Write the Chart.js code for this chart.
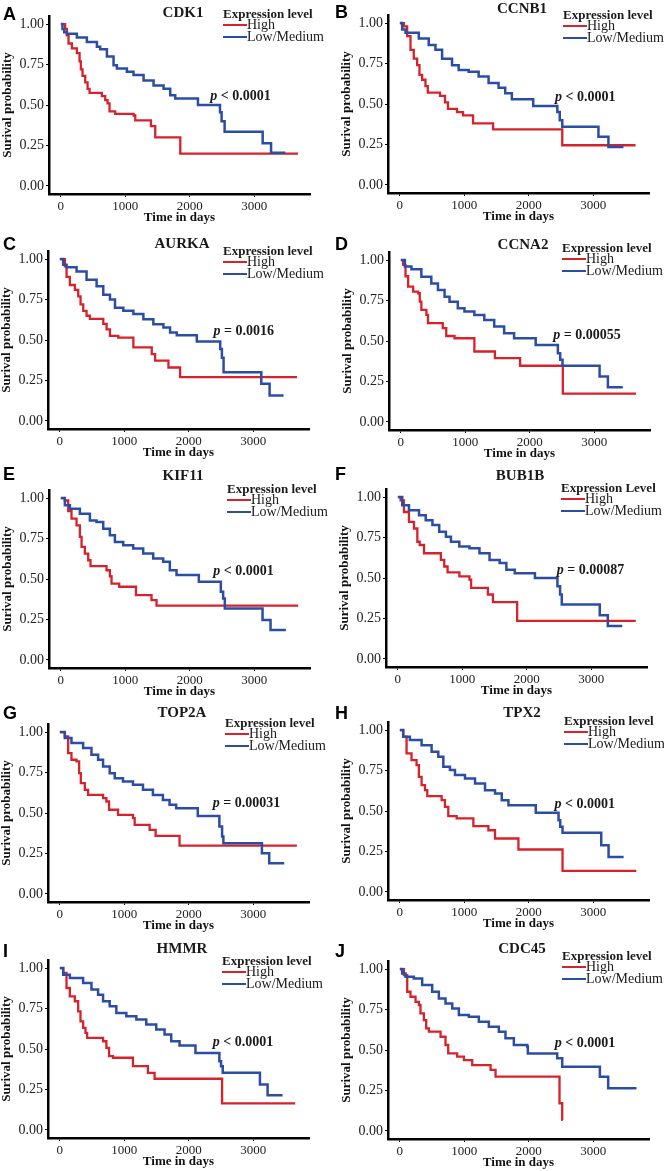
<!DOCTYPE html>
<html><head><meta charset="utf-8">
<script src="https://cdn.jsdelivr.net/npm/chart.js@4.4.1/dist/chart.umd.min.js"></script>
<style>
html,body{margin:0;padding:0;background:#fff;width:664px;height:1171px;overflow:hidden;position:relative;font-family:"Liberation Serif","Times New Roman",serif;}
canvas{position:absolute;}
.t{position:absolute;white-space:nowrap;color:#1a1a1a;line-height:1;}
.title{font-weight:bold;font-size:15px;transform:translate(-50%,-50%);}
.letter{font-family:"Liberation Sans",Arial,sans-serif;font-weight:bold;font-size:18px;color:#000;}
.legt{font-weight:bold;font-size:13px;transform:translateY(-50%);}
.legi{font-size:14px;transform:translateY(-50%);display:flex;align-items:center;}
.key{display:inline-block;width:24px;height:2px;}
.pv{font-weight:bold;font-size:14px;transform:translateY(-50%);}
</style></head><body>
<script>
// ---- data ----
const timeTicks = [0, 1000, 2000, 3000];
const survTicks = [0, 0.25, 0.5, 0.75, 1];
const panelLetters = ['A','B','C','D','E','F','G','H','I','J'];
const genes = ['CDK1','CCNB1','AURKA','CCNA2','KIF11','BUB1B','TOP2A','TPX2','HMMR','CDC45'];
const pvalues = ['< 0.0001','< 0.0001','= 0.0016','= 0.00055','< 0.0001','= 0.00087','= 0.00031','< 0.0001','< 0.0001','< 0.0001'];
const legendTitles = ['Expression level','Expression level','Expression level','Expression level','Expression level','Expression Level','Expression level','Expression level','Expression level','Expression level'];
const groupNames = ['High','Low/Medium'];

// [days, survival probability]
const cdk1High = [[0,1],[67,0.97],[93,0.93],[119,0.88],[171,0.85],[248,0.82],[290,0.77],[310,0.72],[336,0.68],[378,0.64],[414,0.60],[445,0.575],[636,0.555],[688,0.53],[724,0.51],[755,0.46],[843,0.445],[1128,0.435],[1154,0.405],[1397,0.37],[1464,0.30],[1852,0.20],[3678,0.20]];
const cdk1Low = [[0,1],[25,0.97],[52,0.95],[93,0.94],[248,0.917],[403,0.89],[559,0.86],[610,0.845],[714,0.80],[817,0.745],[869,0.725],[1024,0.705],[1127,0.685],[1283,0.652],[1438,0.62],[1593,0.60],[1696,0.56],[1774,0.54],[2126,0.50],[2468,0.455],[2493,0.40],[2540,0.335],[3130,0.263],[3260,0.205],[3481,0.205]];
const ccnb1High = [[0,1],[62,0.98],[113,0.92],[165,0.835],[216,0.78],[268,0.74],[304,0.68],[345,0.65],[397,0.61],[433,0.57],[622,0.55],[700,0.51],[746,0.47],[886,0.45],[980,0.43],[1135,0.38],[1446,0.343],[2519,0.245],[3655,0.245]];
const ccnb1Low = [[0,1],[36,0.96],[88,0.94],[294,0.905],[448,0.865],[552,0.835],[655,0.78],[809,0.74],[912,0.71],[1067,0.70],[1222,0.67],[1376,0.63],[1531,0.60],[1634,0.567],[1737,0.53],[2068,0.487],[2442,0.45],[2480,0.40],[2519,0.36],[3080,0.297],[3235,0.235],[3468,0.235]];
const aurkaHigh = [[0,1],[78,0.955],[104,0.89],[155,0.84],[233,0.81],[285,0.77],[321,0.72],[363,0.68],[414,0.65],[466,0.63],[673,0.60],[725,0.566],[777,0.526],[906,0.515],[1140,0.454],[1425,0.413],[1477,0.372],[1684,0.33],[1865,0.27],[3678,0.27]];
const aurkaLow = [[0,1],[52,0.965],[104,0.95],[259,0.924],[414,0.873],[570,0.832],[673,0.78],[777,0.75],[855,0.70],[984,0.68],[1140,0.66],[1295,0.628],[1450,0.597],[1606,0.577],[1709,0.546],[1813,0.53],[2124,0.49],[2487,0.444],[2513,0.39],[2539,0.30],[3124,0.23],[3253,0.157],[3470,0.157]];
const ccna2High = [[0,1],[36,0.97],[72,0.90],[113,0.836],[190,0.805],[267,0.795],[293,0.743],[318,0.692],[396,0.661],[421,0.61],[650,0.579],[704,0.531],[832,0.517],[1140,0.435],[1459,0.394],[1849,0.347],[2512,0.175],[3647,0.175]];
const ccna2Low = [[0,1],[62,0.96],[164,0.943],[318,0.897],[472,0.856],[575,0.815],[678,0.774],[755,0.743],[883,0.702],[986,0.682],[1140,0.661],[1294,0.63],[1448,0.59],[1602,0.548],[1756,0.517],[2091,0.476],[2435,0.425],[2471,0.384],[2507,0.347],[3082,0.28],[3211,0.214],[3442,0.214]];
const kif11High = [[0,1],[62,0.985],[114,0.92],[165,0.873],[243,0.832],[295,0.76],[321,0.698],[372,0.657],[424,0.616],[460,0.579],[708,0.554],[760,0.517],[786,0.472],[905,0.452],[1165,0.40],[1406,0.37],[1484,0.335],[3681,0.335]];
const kif11Low = [[0,1],[62,0.955],[140,0.934],[295,0.903],[450,0.862],[553,0.852],[657,0.811],[760,0.77],[838,0.729],[967,0.708],[1122,0.688],[1277,0.657],[1432,0.626],[1587,0.606],[1690,0.554],[1794,0.524],[2140,0.483],[2481,0.421],[2517,0.38],[2543,0.318],[3128,0.246],[3252,0.185],[3490,0.185]];
const bub1bHigh = [[0,1],[42,0.98],[94,0.908],[172,0.847],[250,0.806],[302,0.724],[339,0.704],[406,0.653],[667,0.612],[719,0.571],[771,0.535],[954,0.51],[1110,0.49],[1136,0.439],[1396,0.398],[1475,0.351],[1850,0.235],[3689,0.235]];
const bub1bLow = [[0,1],[68,0.949],[172,0.918],[328,0.888],[432,0.857],[536,0.827],[641,0.786],[745,0.755],[823,0.724],[953,0.694],[1110,0.684],[1266,0.653],[1422,0.612],[1579,0.592],[1683,0.551],[1813,0.53],[2126,0.50],[2475,0.449],[2516,0.398],[2542,0.337],[3131,0.27],[3256,0.204],[3480,0.204]];
const top2aHigh = [[0,1],[77,0.973],[129,0.87],[180,0.829],[258,0.819],[299,0.746],[325,0.685],[387,0.643],[438,0.612],[670,0.592],[722,0.571],[763,0.52],[902,0.489],[1134,0.468],[1160,0.427],[1392,0.396],[1485,0.359],[1856,0.299],[3676,0.299]];
const top2aLow = [[0,1],[77,0.963],[180,0.932],[361,0.901],[490,0.86],[593,0.829],[670,0.788],[773,0.746],[851,0.715],[979,0.695],[1134,0.674],[1289,0.643],[1443,0.612],[1598,0.581],[1701,0.551],[1804,0.53],[2139,0.482],[2474,0.416],[2516,0.355],[2536,0.313],[3134,0.252],[3247,0.19],[3480,0.19]];
const tpx2High = [[0,1],[52,0.959],[104,0.856],[181,0.814],[259,0.784],[295,0.711],[337,0.66],[389,0.629],[425,0.592],[648,0.567],[699,0.526],[751,0.468],[881,0.454],[1140,0.406],[1373,0.381],[1476,0.33],[1839,0.262],[2523,0.13],[3667,0.13]];
const tpx2Low = [[0,1],[52,0.959],[155,0.938],[337,0.907],[492,0.866],[596,0.835],[674,0.773],[777,0.753],[855,0.722],[1010,0.701],[1166,0.67],[1321,0.629],[1476,0.608],[1580,0.567],[1684,0.536],[2108,0.489],[2461,0.443],[2487,0.402],[2523,0.365],[3123,0.289],[3237,0.216],[3470,0.216]];
const hmmrHigh = [[0,1],[52,0.97],[103,0.877],[155,0.825],[232,0.795],[284,0.733],[320,0.671],[361,0.63],[397,0.60],[423,0.569],[670,0.548],[722,0.507],[763,0.456],[825,0.446],[1134,0.394],[1366,0.353],[1469,0.316],[2516,0.164],[3650,0.164]];
const hmmrLow = [[0,1],[52,0.959],[155,0.938],[361,0.908],[490,0.867],[593,0.836],[670,0.795],[773,0.764],[876,0.723],[1031,0.702],[1186,0.682],[1340,0.651],[1495,0.62],[1624,0.589],[1727,0.548],[1856,0.522],[2103,0.476],[2474,0.425],[2500,0.394],[2526,0.353],[3103,0.281],[3222,0.214],[3454,0.214]];
const cdc45High = [[0,1],[62,0.963],[114,0.86],[165,0.829],[243,0.798],[295,0.778],[320,0.726],[372,0.685],[408,0.634],[450,0.613],[631,0.582],[708,0.531],[750,0.479],[889,0.459],[993,0.438],[1122,0.407],[1407,0.377],[1484,0.335],[2476,0.171],[2518,0.068],[2528,0.068]];
const cdc45Low = [[0,1],[36,0.973],[88,0.953],[217,0.942],[346,0.901],[501,0.86],[605,0.819],[708,0.788],[812,0.757],[915,0.716],[1070,0.706],[1225,0.675],[1380,0.644],[1535,0.613],[1638,0.572],[1768,0.531],[1975,0.521],[1985,0.479],[2440,0.449],[2518,0.397],[3102,0.335],[3231,0.263],[3670,0.263]];

const highSeries = [cdk1High, ccnb1High, aurkaHigh, ccna2High, kif11High, bub1bHigh, top2aHigh, tpx2High, hmmrHigh, cdc45High];
const lowSeries = [cdk1Low, ccnb1Low, aurkaLow, ccna2Low, kif11Low, bub1bLow, top2aLow, tpx2Low, hmmrLow, cdc45Low];

// ---- layout (pixel positions of each panel's plot area and annotations) ----
const layout = [
  {left:49, top:16, titleDy:-4, legDy:-3, legDx:174, pX:2317, pY:0.555, lx:3, ly:5},
  {left:388, top:15, titleDy:-7, legDy:-1, legDx:175, pX:2407, pY:0.542, lx:335, ly:3},
  {left:48, top:251, titleDy:-8, legDy:-1, legDx:175, pX:2383, pY:0.556, lx:3, ly:235},
  {left:389, top:252, titleDy:-8, legDy:-5, legDx:173, pX:2363, pY:0.538, lx:335, ly:235},
  {left:49, top:490, titleDy:-15, legDy:-2, legDx:178, pX:2363, pY:0.548, lx:3, ly:465},
  {left:386, top:489, titleDy:-14, legDy:-2, legDx:175, pX:2464, pY:0.551, lx:335, ly:465},
  {left:48, top:724, titleDy:-12, legDy:-2, legDx:177, pX:2371, pY:0.561, lx:3, ly:704},
  {left:388, top:722, titleDy:-10, legDy:-2, legDx:176, pX:2398, pY:0.546, lx:335, ly:704},
  {left:48, top:960, titleDy:-12, legDy:0, legDx:174, pX:2371, pY:0.544, lx:3, ly:942},
  {left:388, top:961, titleDy:-13, legDy:-6, legDx:174, pX:2404, pY:0.541, lx:335, ly:942}
];
const RED = '#D6222A', BLUE = '#2B4DA4';
const SERIF = '"Liberation Serif","Times New Roman",serif';
const YW = 49, PADT = 30, PADR = 15, XH = 31, CW = 325, CH = 239;

function toXY(arr){ return arr.map(p => ({x:p[0], y:p[1]})); }
function addDiv(cls, html, x, y){
  const d = document.createElement('div');
  d.className = 't ' + cls; d.innerHTML = html;
  d.style.left = x + 'px'; d.style.top = y + 'px';
  document.body.appendChild(d); return d;
}

const charts = [];
for (let i = 0; i < genes.length; i++) {
  const L = layout[i];
  const cv = document.createElement('canvas');
  cv.width = CW; cv.height = CH;
  cv.style.width = CW + 'px'; cv.style.height = CH + 'px';
  cv.style.left = (L.left - YW) + 'px'; cv.style.top = (L.top - PADT) + 'px';
  document.body.appendChild(cv);
  const axisCommon = {
    grid:{display:true, drawOnChartArea:false, drawTicks:true, tickLength:3, color:'#000', lineWidth:1},
    border:{display:true, color:'#000', width:2.5}
  };
  const ch = new Chart(cv, {
    type:'line',
    data:{datasets:[
      {label:groupNames[0], data:toXY(highSeries[i]), borderColor:RED, backgroundColor:RED, borderWidth:2.3, stepped:'before', pointRadius:0, fill:false, order:1},
      {label:groupNames[1], data:toXY(lowSeries[i]), borderColor:BLUE, backgroundColor:BLUE, borderWidth:2.5, stepped:'before', pointRadius:0, fill:false, order:0}
    ]},
    options:{
      responsive:false, animation:false, devicePixelRatio:1,
      layout:{padding:{top:PADT, right:PADR, left:0, bottom:0}},
      plugins:{legend:{display:false}, tooltip:{enabled:false}},
      events:[],
      scales:{
        x:Object.assign({type:'linear', min:-184, max:3864,
          afterBuildTicks:s => { s.ticks = timeTicks.map(v => ({value:v})); },
          afterFit:s => { s.height = XH; },
          ticks:{autoSkip:false, maxRotation:0, minRotation:0, padding:2, color:'#222', font:{family:SERIF, size:13}, callback:v => String(v)},
          title:{display:true, text:'Time in days', color:'#111', font:{family:SERIF, size:13, weight:'bold'}, padding:{top:0, bottom:0}}
        }, axisCommon),
        y:Object.assign({type:'linear', min:-0.05, max:1.05,
          afterBuildTicks:s => { s.ticks = survTicks.map(v => ({value:v})); },
          afterFit:s => { s.width = YW; },
          ticks:{autoSkip:false, padding:2, color:'#222', font:{family:SERIF, size:14}, callback:v => Number(v).toFixed(2)},
          title:{display:true, text:'Surival probability', color:'#111', font:{family:SERIF, size:13, weight:'bold'}, padding:{top:0, bottom:0}}
        }, axisCommon)
      }
    }
  });
  charts.push(ch);

  // panel letter
  addDiv('letter', panelLetters[i], L.lx, L.ly);
  // gene title
  addDiv('title', genes[i], L.left + 134, L.top + L.titleDy);
  // legend
  const lx = L.left + L.legDx, ly = L.top + L.legDy;
  addDiv('legt', legendTitles[i], lx, ly);
  addDiv('legi', '<span class="key" style="background:' + RED + '"></span><span>' + groupNames[0] + '</span>', lx, ly + 12);
  addDiv('legi', '<span class="key" style="background:' + BLUE + '"></span><span>' + groupNames[1] + '</span>', lx, ly + 24);
  // p-value placed in data coordinates
  const px = ch.scales.x.getPixelForValue(L.pX) + (L.left - YW);
  const py = ch.scales.y.getPixelForValue(L.pY) + (L.top - PADT);
  addDiv('pv', '<i>p</i> ' + pvalues[i].replace('<', '&lt;'), px, py);
}
</script>
</body></html>
